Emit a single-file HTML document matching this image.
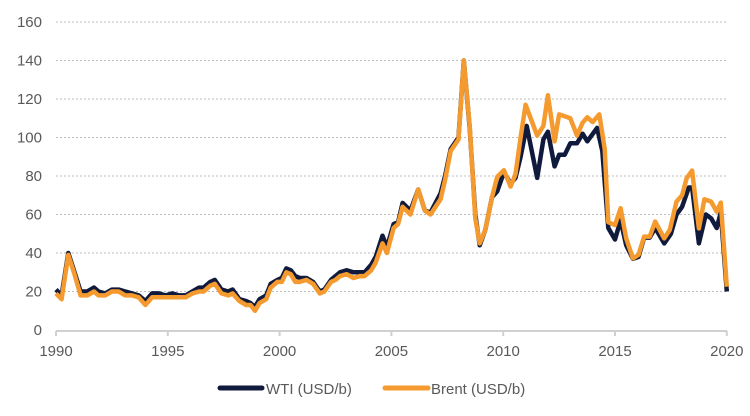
<!DOCTYPE html>
<html><head><meta charset="utf-8"><style>
body{margin:0;background:#fff;}
svg{display:block;font-family:"Liberation Sans",sans-serif;}
</style></head><body>
<svg id="c" width="750" height="416" viewBox="0 0 750 416">
<g id="grid" stroke="#bdbdbd" stroke-width="1" stroke-dasharray="2,2"></g>
<line x1="56" y1="331" x2="727" y2="331" stroke="#d0d0d0" stroke-width="2"/>
<g id="ticks" stroke="#d0d0d0" stroke-width="2"></g>
<g id="lab" fill="#595959" font-size="15"></g>
<path id="w" fill="none" stroke="#0f1a3c" stroke-width="4.5" stroke-linejoin="round"/>
<path id="b" fill="none" stroke="#f59a2e" stroke-width="4.5" stroke-linejoin="round"/>
<line x1="220" y1="388" x2="262" y2="388" stroke="#0f1a3c" stroke-width="5" stroke-linecap="round"/>
<text x="266" y="394" fill="#595959" font-size="15">WTI (USD/b)</text>
<line x1="385" y1="388" x2="428" y2="388" stroke="#f59a2e" stroke-width="5" stroke-linecap="round"/>
<text x="431" y="394" fill="#595959" font-size="15">Brent (USD/b)</text>
</svg>
<script>
var X=function(t){return 56+(t-1990)*22.36},Y=function(v){return 330-v*1.925};
var ns="http://www.w3.org/2000/svg",g=document.getElementById('grid'),l=document.getElementById('lab'),tk=document.getElementById('ticks');
for(var v=20;v<=160;v+=20){var e=document.createElementNS(ns,'line');e.setAttribute('x1',56);e.setAttribute('x2',728);e.setAttribute('y1',Y(v));e.setAttribute('y2',Y(v));g.appendChild(e);}
for(var v=0;v<=160;v+=20){var t=document.createElementNS(ns,'text');t.setAttribute('x',42);t.setAttribute('y',Y(v)+5);t.setAttribute('text-anchor','end');t.textContent=v;l.appendChild(t);}
for(var y=1990;y<=2020;y+=5){var t=document.createElementNS(ns,'text');t.setAttribute('x',X(y));t.setAttribute('y',356);t.setAttribute('text-anchor','middle');t.textContent=y;l.appendChild(t);
var e=document.createElementNS(ns,'line');e.setAttribute('x1',X(y));e.setAttribute('x2',X(y));e.setAttribute('y1',331);e.setAttribute('y2',336);tk.appendChild(e);}
var W=[[1990,21],[1990.25,18],[1990.55,40],[1990.8,31],[1991.1,20],[1991.4,20],[1991.7,22],[1991.9,20],[1992.2,19],[1992.5,21],[1992.8,21],[1993.1,20],[1993.4,19],[1993.7,18],[1994,15],[1994.3,19],[1994.6,19],[1994.9,18],[1995.2,19],[1995.5,18],[1995.8,18],[1996.1,20],[1996.4,22],[1996.6,22],[1996.9,25],[1997.1,26],[1997.4,21],[1997.7,20],[1997.9,21],[1998.2,16],[1998.5,15],[1998.7,14],[1998.9,12],[1999.1,16],[1999.4,18],[1999.6,24],[1999.9,26],[2000.1,27],[2000.3,32],[2000.5,31],[2000.7,28],[2000.9,27],[2001.2,27],[2001.5,25],[2001.8,20],[2002,21],[2002.3,26],[2002.5,28],[2002.7,30],[2003,31],[2003.3,30],[2003.6,30],[2003.8,30],[2004.1,34],[2004.3,38],[2004.6,49],[2004.8,43],[2005.1,55],[2005.3,56],[2005.5,66],[2005.85,62],[2006.2,73],[2006.5,62],[2006.75,61],[2007.2,71],[2007.4,80],[2007.65,94],[2008,100],[2008.24,140],[2008.5,105],[2008.75,60],[2008.95,44],[2009.2,52],[2009.5,69],[2009.73,72],[2010.03,82],[2010.33,76],[2010.55,79],[2010.78,90],[2011.05,106],[2011.52,79],[2011.8,99],[2012,103],[2012.3,85],[2012.5,91],[2012.75,91],[2013,97],[2013.3,97],[2013.55,102],[2013.76,98],[2014.2,105],[2014.43,93],[2014.7,53],[2015,47],[2015.25,57],[2015.5,44],[2015.8,37],[2016.05,38],[2016.3,48],[2016.55,48],[2016.8,53],[2017.2,45],[2017.5,50],[2017.75,60],[2018,64],[2018.3,74],[2018.45,74],[2018.75,45],[2019.06,60],[2019.3,58],[2019.55,53],[2019.73,61],[2020,20]];
var B=[[1990,19],[1990.25,16],[1990.55,39],[1990.8,30],[1991.1,18],[1991.4,18],[1991.7,20],[1991.9,18],[1992.2,18],[1992.5,20],[1992.8,20],[1993.1,18],[1993.4,18],[1993.7,17],[1994,13],[1994.3,17],[1994.6,17],[1994.9,17],[1995.2,17],[1995.5,17],[1995.8,17],[1996.1,19],[1996.4,20],[1996.6,20],[1996.9,23],[1997.1,24],[1997.4,19],[1997.7,18],[1997.9,19],[1998.2,15],[1998.5,13],[1998.7,13],[1998.9,10],[1999.1,14],[1999.4,16],[1999.6,22],[1999.9,25],[2000.1,25],[2000.3,30],[2000.5,29],[2000.7,25],[2000.9,25],[2001.2,26],[2001.5,24],[2001.8,19],[2002,20],[2002.3,25],[2002.5,26],[2002.7,28],[2003,29],[2003.3,27],[2003.6,28],[2003.8,28],[2004.1,31],[2004.3,35],[2004.6,45],[2004.8,40],[2005.1,53],[2005.3,55],[2005.5,64],[2005.85,60],[2006.2,73],[2006.5,62],[2006.75,60],[2007.2,68],[2007.4,78],[2007.65,93],[2008,99],[2008.24,140],[2008.5,106],[2008.75,58],[2008.95,45],[2009.2,52],[2009.5,69],[2009.73,79.6],[2010.03,83],[2010.33,74.5],[2010.55,81],[2010.78,100],[2011.0,117],[2011.52,101],[2011.8,106],[2012,122],[2012.3,98],[2012.5,112],[2012.75,111],[2013,110],[2013.3,101],[2013.55,107.7],[2013.76,110.5],[2014,108],[2014.3,112],[2014.54,94],[2014.7,56],[2015,54.5],[2015.25,63.2],[2015.5,47.6],[2015.8,37.2],[2016.05,39],[2016.3,48.5],[2016.55,48.5],[2016.8,56.3],[2017.2,47.6],[2017.45,52],[2017.75,66.7],[2018,70],[2018.2,78.8],[2018.45,82.8],[2018.75,52.8],[2019.0,67.9],[2019.3,66.7],[2019.55,61.5],[2019.73,66.2],[2020,22.5]];
function P(a){return a.map(function(p,i){return (i?'L':'M')+X(p[0]).toFixed(1)+','+Y(p[1]).toFixed(1)}).join('')}
document.getElementById('w').setAttribute('d',P(W));
document.getElementById('b').setAttribute('d',P(B));
</script>
</body></html>
